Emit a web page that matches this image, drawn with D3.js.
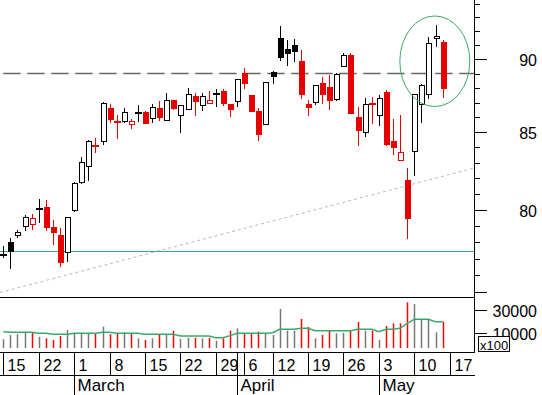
<!DOCTYPE html>
<html>
<head>
<meta charset="utf-8">
<script src="https://cdn.jsdelivr.net/npm/d3@7"></script>
<style>
  body { margin: 0; background: #fff; }
  svg { display: block; font-family: "Liberation Sans", Arial, sans-serif; }
</style>
</head>
<body>
<svg id="chart" width="542" height="395"></svg>
<script>
// trading days, Feb 15 – May 14 2010 (Good Friday / Easter Monday closed)
const days = [
  "02-15","02-16","02-17","02-18","02-19","02-22","02-23","02-24","02-25","02-26",
  "03-01","03-02","03-03","03-04","03-05","03-08","03-09","03-10","03-11","03-12",
  "03-15","03-16","03-17","03-18","03-19","03-22","03-23","03-24","03-25","03-26",
  "03-29","03-30","03-31","04-01","04-06","04-07","04-08","04-09","04-12","04-13",
  "04-14","04-15","04-16","04-19","04-20","04-21","04-22","04-23","04-26","04-27",
  "04-28","04-29","04-30","05-03","05-04","05-05","05-06","05-07","05-10","05-11",
  "05-12","05-13","05-14"
];
const axisExtra = ["05-17"]; // empty slot on the date axis
const monthNames = { "03": "March", "04": "April", "05": "May" };

const prevClose = 77.0;
const open = [
  77.20, 78.01, 78.41, 78.99, 79.12, 80.05, 80.19, 78.95, 78.41, 77.41,
  79.99, 81.75, 82.78, 84.11, 84.48, 86.62, 85.70, 85.74, 85.54, 86.32,
  86.37, 86.00, 86.66, 85.78, 87.18, 86.14, 86.55, 87.46, 86.82, 87.00,
  87.61, 87.78, 86.93, 87.09, 89.03, 87.53, 86.46, 85.54, 89.10, 91.49,
  90.71, 91.02, 89.88, 86.91, 87.00, 88.35, 88.09, 87.27, 89.59, 90.33,
  85.99, 85.05, 86.89, 86.14, 87.74, 84.43, 83.21, 81.90, 83.80, 86.89,
  87.57, 91.49, 91.23
];
const high = [
  77.79, 78.25, 78.77, 79.69, 79.75, 80.69, 80.63, 79.38, 78.87, 79.57,
  81.77, 83.37, 84.50, 84.61, 87.04, 86.91, 86.17, 86.62, 85.91, 86.80,
  86.44, 86.91, 87.09, 87.64, 87.18, 86.84, 87.99, 87.64, 87.68, 87.80,
  87.92, 87.92, 86.93, 88.63, 89.37, 87.53, 86.62, 88.40, 89.19, 92.38,
  91.37, 91.44, 90.65, 87.18, 88.19, 88.79, 88.91, 89.03, 90.42, 90.42,
  86.69, 87.30, 87.37, 87.53, 87.87, 85.90, 86.17, 82.65, 87.59, 88.28,
  91.60, 92.45, 91.37
];
const low = [
  77.06, 76.35, 78.23, 78.66, 78.72, 79.18, 78.66, 77.81, 76.51, 76.78,
  79.84, 81.60, 81.79, 83.63, 84.13, 85.65, 84.57, 85.65, 85.25, 85.68,
  85.58, 85.65, 85.72, 85.72, 86.51, 84.95, 86.55, 86.11, 86.46, 87.00,
  86.73, 86.77, 86.05, 86.73, 87.94, 86.46, 84.39, 85.54, 88.30, 89.90,
  89.55, 89.83, 87.25, 86.11, 86.86, 86.91, 86.51, 87.13, 89.59, 86.32,
  84.11, 84.68, 85.56, 85.43, 84.06, 83.52, 83.15, 78.21, 82.11, 85.61,
  87.25, 90.89, 87.32
];
const close = [
  77.20, 77.48, 78.62, 79.57, 79.50, 80.05, 78.97, 78.66, 76.78, 79.57,
  81.67, 83.04, 84.41, 84.11, 87.00, 85.91, 85.70, 86.35, 85.74, 86.32,
  85.65, 86.73, 86.05, 87.16, 86.66, 86.84, 87.57, 87.13, 87.46, 87.18,
  87.61, 86.93, 86.59, 88.63, 88.33, 86.46, 84.94, 88.40, 88.79, 90.14,
  90.40, 90.61, 87.61, 86.73, 88.19, 87.59, 87.18, 88.98, 90.33, 86.32,
  85.12, 86.91, 86.89, 87.30, 84.26, 84.06, 83.70, 79.52, 87.59, 88.21,
  91.16, 91.66, 88.03
];
// volume in hundreds
const volume = [
  5000, 8700, 9300, 11500, 10600, 7200, 5800, 4400, 7800, 13000,
  10100, 10100, 10600, 10100, 15800, 9300, 10100, 11000, 10100, 5800,
  4400, 5800, 8700, 9300, 12400, 5500, 6300, 6300, 5800, 6300,
  3800, 5800, 12400, 14400, 10100, 10100, 11500, 10400, 8700, 31000,
  12400, 12400, 22400, 15500, 5800, 8700, 12400, 10100, 10600, 12400,
  19800, 12400, 12400, 4400, 16400, 18700, 18700, 36700, 35300, 22100,
  22100, 11000, 20100
];
const volumeAvg = [
  11500, 11000, 11000, 11000, 11000, 10100, 10100, 9300, 9300, 9300,
  10100, 10100, 10100, 10100, 11000, 11000, 10100, 10100, 10100, 10100,
  9300, 9300, 9300, 9300, 9300, 7800, 7800, 7800, 7800, 7800,
  6300, 6300, 8100, 10100, 10100, 10100, 10100, 10100, 10600, 13600,
  13600, 13600, 14400, 14400, 12400, 12400, 12400, 12400, 12400, 12400,
  13600, 13600, 13600, 11500, 13600, 13600, 14400, 18700, 22100, 22100,
  22100, 20100, 20100
];

// annotations
const resistance = 89.0;
const support = 77.45;
const trendFrom = [-0.47, 74.98];
const trendTo = [66.43, 82.65];
const ellipseDay = 60.9, ellipseHalfDays = 4.94, ellipseTop = 93.1, ellipseBottom = 86.73;

const priceTicks = d3.range(75, 95);
const priceMajor = [75, 80, 85, 90];
const priceLabels = [80, 85, 90];
const volumeTicks = [10000, 30000];

const red = "#e60000", black = "#000";
const axisX = 474.5, labelX = 537;

const svg = d3.select("#chart");

const x = d3.scaleLinear().domain([-0.466, 66.43]).range([0, 474]);
const y = d3.scaleLog().domain([74.66, 94.27]).range([298, 0]);
const yVol = d3.scaleLinear().domain([-2500, 40000]).range([348, 298.5]);

const px = i => Math.round(x(i)) + 0.5;

// trend line (dotted)
svg.append("line")
  .attr("x1", x(trendFrom[0])).attr("y1", y(trendFrom[1]))
  .attr("x2", x(trendTo[0])).attr("y2", y(trendTo[1]))
  .attr("stroke", "#b8b8b8").attr("stroke-width", 1)
  .attr("stroke-dasharray", "3,3");

// support line
svg.append("line")
  .attr("x1", 0).attr("x2", axisX)
  .attr("y1", Math.round(y(support)) + 0.5).attr("y2", Math.round(y(support)) + 0.5)
  .attr("stroke", "#46a878").attr("stroke-width", 1);

// resistance line (dashed)
svg.append("line")
  .attr("x1", 0).attr("x2", axisX)
  .attr("y1", y(resistance)).attr("y2", y(resistance))
  .attr("stroke", "#666").attr("stroke-width", 1.5)
  .attr("stroke-dasharray", "17.3,6.7").attr("stroke-dashoffset", 20.7);

// candles
const candles = svg.append("g").attr("shape-rendering", "crispEdges");
days.forEach((d, i) => {
  const pc = i === 0 ? prevClose : close[i - 1];
  const col = close[i] >= pc ? black : red;
  const cx = px(i);
  candles.append("line")
    .attr("x1", cx).attr("x2", cx)
    .attr("y1", y(high[i])).attr("y2", y(low[i]))
    .attr("stroke", col).attr("stroke-width", 1);
  if (open[i] === close[i]) {
    candles.append("rect")
      .attr("x", cx - 3.5).attr("y", Math.round(y(open[i])) - 1)
      .attr("width", 7).attr("height", 2)
      .attr("fill", col);
  } else {
    const top = y(Math.max(open[i], close[i]));
    const bot = y(Math.min(open[i], close[i]));
    const hollow = close[i] > open[i];
    candles.append("rect")
      .attr("x", cx - 2.5).attr("y", Math.round(top) + 0.5)
      .attr("width", 5).attr("height", Math.max(1, Math.round(bot - top)))
      .attr("fill", hollow ? "#fff" : col)
      .attr("stroke", col).attr("stroke-width", 1);
  }
});

// highlight ellipse
svg.append("ellipse")
  .attr("cx", x(ellipseDay))
  .attr("cy", (y(ellipseTop) + y(ellipseBottom)) / 2)
  .attr("rx", x(ellipseDay + ellipseHalfDays) - x(ellipseDay))
  .attr("ry", (y(ellipseBottom) - y(ellipseTop)) / 2)
  .attr("fill", "none").attr("stroke", "#3aa86a").attr("stroke-width", 1);

// volume bars
days.forEach((d, i) => {
  const pc = i === 0 ? prevClose : close[i - 1];
  svg.append("line")
    .attr("x1", px(i)).attr("x2", px(i))
    .attr("y1", yVol.range()[0]).attr("y2", yVol(volume[i]))
    .attr("stroke", close[i] >= pc ? "#777" : "#f00")
    .attr("stroke-width", 1.5);
});

svg.append("path")
  .datum(volumeAvg)
  .attr("d", d3.line().x((v, i) => x(i)).y(v => yVol(v)))
  .attr("fill", "none").attr("stroke", "#3aa86a").attr("stroke-width", 1.5);

// frame lines
const frame = svg.append("g").attr("stroke", "#000").attr("stroke-width", 1)
  .attr("shape-rendering", "crispEdges");
frame.append("line").attr("x1", 0).attr("x2", axisX).attr("y1", 297.5).attr("y2", 297.5);
frame.append("line").attr("x1", 0).attr("x2", axisX).attr("y1", 352.5).attr("y2", 352.5);
frame.append("line").attr("x1", 0).attr("x2", axisX).attr("y1", 375.5).attr("y2", 375.5);
frame.append("line").attr("x1", axisX).attr("x2", axisX).attr("y1", 0).attr("y2", 352.5);

// price axis
const minorAxis = svg.append("g").attr("transform", `translate(${axisX},0)`)
  .call(d3.axisRight(y).tickValues(priceTicks).tickSize(5).tickFormat(""));
const majorAxis = svg.append("g").attr("transform", `translate(${axisX},0)`)
  .call(d3.axisRight(y).tickValues(priceMajor).tickSize(12)
    .tickFormat(v => priceLabels.includes(v) ? v : ""));
const volAxis = svg.append("g").attr("transform", `translate(${axisX},0)`)
  .call(d3.axisRight(yVol).tickValues(volumeTicks).tickSize(12).tickFormat(d3.format("d")));

[minorAxis, majorAxis, volAxis].forEach(a => {
  a.select(".domain").remove();
  a.attr("shape-rendering", "crispEdges");
  a.selectAll(".tick line").attr("stroke", "#000");
  a.selectAll(".tick text")
    .attr("x", labelX - axisX).attr("dy", "0.4em")
    .attr("text-anchor", "end")
    .attr("font-family", "Liberation Sans, Arial, sans-serif")
    .attr("font-size", 16).attr("fill", "#000");
});

// x100 box
svg.append("rect").attr("x", 478.5).attr("y", 336.5).attr("width", 31).attr("height", 15)
  .attr("fill", "#fff").attr("stroke", "#000").attr("shape-rendering", "crispEdges");
svg.append("text").attr("x", 480).attr("y", 349.5).attr("font-size", 13).text("x100");

// date axis
const allDays = days.concat(axisExtra);
const dow = s => new Date(Date.UTC(2010, +s.slice(0, 2) - 1, +s.slice(3))).getUTCDay();
allDays.forEach((d, i) => {
  const weekStart = i === 0 || dow(d) < dow(allDays[i - 1]);
  const monthStart = i > 0 && d.slice(0, 2) !== allDays[i - 1].slice(0, 2);
  if (monthStart) {
    svg.append("line").attr("x1", px(i)).attr("x2", px(i)).attr("y1", 352).attr("y2", 395)
      .attr("stroke", "#000").attr("shape-rendering", "crispEdges");
    svg.append("text").attr("x", px(i) + 3).attr("y", 391).attr("font-size", 17)
      .text(monthNames[d.slice(0, 2)]);
  }
  if (weekStart) {
    svg.append("line").attr("x1", px(i)).attr("x2", px(i)).attr("y1", 352).attr("y2", 375)
      .attr("stroke", "#000").attr("shape-rendering", "crispEdges");
    svg.append("text").attr("x", px(i) + 4).attr("y", 370.5).attr("font-size", 16)
      .text(+d.slice(3));
  }
});
</script>
</body>
</html>
